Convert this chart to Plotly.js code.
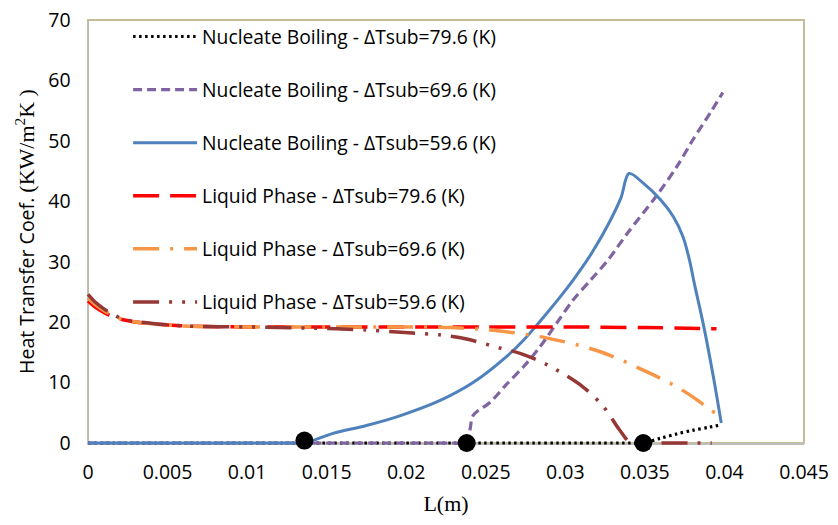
<!DOCTYPE html>
<html>
<head>
<meta charset="utf-8">
<script src="https://cdn.plot.ly/plotly-3.0.1.min.js"></script>
<style>
  html, body { margin: 0; padding: 0; background: #ffffff; }
  #chart { width: 838px; height: 525px; }
  /* let the zero-valued curves show their full stroke on the bottom axis */
  #chart .cartesianlayer g.plot,
  #chart .scatterlayer,
  #chart .scatterlayer * { clip-path: none !important; }
</style>
</head>
<body>
<div id="chart"></div>
<script>
// Heat transfer coefficient along the channel length L (m), kW/m²K

// Nucleate boiling, ΔTsub = 79.6 K
const nb79L = [0, 0.0330, 0.0342, 0.0349, 0.0360, 0.0370, 0.0380, 0.0390, 0.0398];
const nb79H = [0, 0, 0, 0, 0.8, 1.5, 2.1, 2.6, 3.0];

// Nucleate boiling, ΔTsub = 69.6 K
const nb69L = [0, 0.0215, 0.0230, 0.0238, 0.0240, 0.02422, 0.0253, 0.0263, 0.0274, 0.0284, 0.0295, 0.0305,
               0.0316, 0.0326, 0.0339, 0.0357, 0.0370, 0.0380, 0.0391, 0.0399];
const nb69H = [0, 0, 0, 0, 2.1, 4.6, 6.8, 9.7, 12.7, 15.9, 20.0, 23.7,
               27.0, 30.0, 34.7, 40.8, 45.7, 50.1, 54.6, 58.0];

// Nucleate boiling, ΔTsub = 59.6 K
const nb59L = [0, 0.0115, 0.0128, 0.0136, 0.0154, 0.0175, 0.0196, 0.0221, 0.0242, 0.0263, 0.0274, 0.0284,
               0.0295, 0.0305, 0.0317, 0.0328, 0.0335, 0.0340, 0.0349, 0.0360, 0.0368, 0.0374,
               0.0378, 0.0381, 0.0387, 0.0393, 0.0398];
const nb59H = [0, 0, 0, 0, 1.6, 2.9, 4.5, 7.0, 10.0, 14.3, 17.1, 20.1,
               23.6, 27.0, 31.6, 36.7, 40.6, 44.6, 43.0, 40.2, 37.4, 34.1,
               30.3, 26.5, 19.3, 11.0, 3.3];

// Liquid phase, ΔTsub = 79.6 K
const lp79L = [0, 0.0005, 0.001, 0.0013, 0.0022, 0.0037, 0.0058, 0.010, 0.015, 0.020,
               0.025, 0.030, 0.035, 0.0395];
const lp79H = [23.5, 22.4, 21.6, 21.2, 20.4, 19.8, 19.4, 19.2, 19.2, 19.2,
               19.2, 19.2, 19.1, 18.9];

// Liquid phase, ΔTsub = 69.6 K
const lp69L = [0, 0.0005, 0.001, 0.0015, 0.0022, 0.0037, 0.0058, 0.010, 0.015, 0.020,
               0.0228, 0.0253, 0.0288, 0.0322, 0.0351, 0.0370, 0.0383, 0.0391, 0.0399];
const lp69H = [24.0, 22.8, 21.9, 21.2, 20.4, 19.8, 19.4, 19.2, 19.2, 19.2,
               19.1, 18.7, 17.4, 15.1, 11.8, 9.3, 7.1, 5.5, 4.3];

// Liquid phase, ΔTsub = 59.6 K
const lp59L = [0, 0.0005, 0.001, 0.0015, 0.0022, 0.0037, 0.0058, 0.010, 0.0142, 0.0175,
               0.0204, 0.0221, 0.0238, 0.0259, 0.0272, 0.0289, 0.0311, 0.0324, 0.0334, 0.0341,
               0.0349, 0.0392];
const lp59H = [24.6, 23.2, 22.2, 21.4, 20.5, 19.9, 19.4, 19.2, 19.0, 18.7,
               18.2, 17.9, 17.2, 15.7, 14.8, 12.9, 9.3, 6.0, 2.2, 0,
               0, 0];

// Onset of nucleate boiling points
const onbL = [0.0136, 0.0238, 0.0349];
const onbH = [0.4, 0, 0];

const seriesNames = [
  'Nucleate Boiling - ΔTsub=79.6 (K)',
  'Nucleate Boiling - ΔTsub=69.6 (K)',
  'Nucleate Boiling - ΔTsub=59.6 (K)',
  'Liquid Phase - ΔTsub=79.6 (K)',
  'Liquid Phase - ΔTsub=69.6 (K)',
  'Liquid Phase - ΔTsub=59.6 (K)'
];

const xTickVals = [0, 0.005, 0.01, 0.015, 0.02, 0.025, 0.03, 0.035, 0.04, 0.045];
const xTickText = ['0', '0.005', '0.01', '0.015', '0.02', '0.025', '0.03', '0.035', '0.04', '0.045'];
const yTickVals = [0, 10, 20, 30, 40, 50, 60, 70];

const sans = '"Open Sans", "Noto Sans", sans-serif';
const serif = '"Liberation Serif", "DejaVu Serif", serif';

function line(x, y, i, color, dash, width) {
  return {
    type: 'scatter', mode: 'lines', x: x, y: y,
    name: seriesNames[i], legendgroup: 'g' + i, cliponaxis: false,
    line: { color: color, dash: dash, width: width, shape: 'spline', smoothing: 0.9 },
    hoverinfo: 'skip'
  };
}

const traces = [
  line(nb79L, nb79H, 0, '#000000', '2.5px,3.5px', 3.2),
  line(nb69L, nb69H, 1, '#8064A2', '9px,5px', 3.2),
  line(nb59L, nb59H, 2, '#4F81BD', 'solid', 3),
  line(lp79L, lp79H, 3, '#FF0000', '26px,11px', 3.5),
  line(lp69L, lp69H, 4, '#F79646', '26px,11px,3px,11px', 3.5),
  line(lp59L, lp59H, 5, '#953735', '26px,10px,3px,10px,3px,10px', 3.5),
  {
    type: 'scatter', mode: 'markers', x: onbL, y: onbH,
    showlegend: false, hoverinfo: 'skip', cliponaxis: false,
    marker: { color: '#000000', size: 18, line: { width: 0 } }
  }
];

const layout = {
  width: 838, height: 525,
  margin: { l: 88, r: 34, t: 20, b: 82 },
  paper_bgcolor: '#ffffff', plot_bgcolor: '#ffffff',
  font: { family: sans, size: 18, color: '#000000' },
  showlegend: true,
  legend: {
    x: 0.056, y: 1.006, xanchor: 'left', yanchor: 'top',
    bgcolor: 'rgba(0,0,0,0)', borderwidth: 0,
    font: { family: sans, size: 19.3, color: '#000000' },
    tracegroupgap: 25, itemwidth: 64, maxheight: 480
  },
  xaxis: {
    range: [0, 0.045], tickvals: xTickVals, ticktext: xTickText,
    showgrid: false, zeroline: false, ticks: '', layer: 'below traces',
    showline: true, linecolor: '#BFBFBF', linewidth: 1.5,
    ticklabelstandoff: 11,
    tickfont: { family: sans, size: 19.5, color: '#000000' },
    title: { text: 'L(m)', font: { family: serif, size: 22, color: '#000000' }, standoff: 11 }
  },
  yaxis: {
    range: [0, 70], tickvals: yTickVals,
    showgrid: false, zeroline: false, ticks: '', layer: 'below traces',
    showline: true, linecolor: '#BFBFBF', linewidth: 1.5,
    ticklabelstandoff: 12,
    tickfont: { family: sans, size: 19.5, color: '#000000' },
    title: {
      text: 'Heat Transfer Coef. <span style="font-family:' + "'Liberation Serif'" +
            ';font-size:22px">(KW/m<sup>2</sup>K )</span>',
      font: { family: sans, size: 19.5, color: '#000000' }, standoff: 8
    }
  },
  shapes: [{
    type: 'rect', xref: 'paper', yref: 'paper', x0: 0, x1: 1, y0: 0, y1: 1,
    line: { color: '#C4BD97', width: 2 }, layer: 'below'
  }]
};

Plotly.newPlot('chart', traces, layout, { staticPlot: true, displayModeBar: false });
</script>
</body>
</html>
